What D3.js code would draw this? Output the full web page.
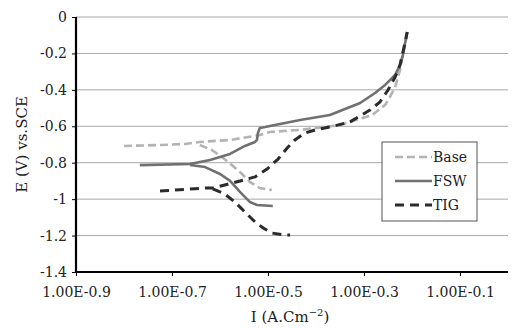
<!DOCTYPE html>
<html>
<head>
<meta charset="utf-8">
<script src="https://cdn.jsdelivr.net/npm/d3@7"></script>
<style>
  body { margin: 0; background: #fff; }
  text { font-family: "DejaVu Serif", serif; fill: #222; }
</style>
</head>
<body>
<svg id="chart" width="513" height="328"></svg>
<script>
// Data: x = log10(I), y = E (V vs SCE)
const xTicks = [-0.9, -0.7, -0.5, -0.3, -0.1];
const xTickLabels = ["1.00E-0.9", "1.00E-0.7", "1.00E-0.5", "1.00E-0.3", "1.00E-0.1"];
const yTicks = [0, -0.2, -0.4, -0.6, -0.8, -1, -1.2, -1.4];
const yTickLabels = ["0", "-0.2", "-0.4", "-0.6", "-0.8", "-1", "-1.2", "-1.4"];
const seriesNames = ["Base", "FSW", "TIG"];

const baseAnodic = [
  [-0.800, -0.708], [-0.725, -0.703], [-0.673, -0.697], [-0.642, -0.686],
  [-0.579, -0.675], [-0.517, -0.648], [-0.496, -0.631], [-0.433, -0.620],
  [-0.350, -0.593], [-0.283, -0.538], [-0.256, -0.483], [-0.246, -0.439],
  [-0.235, -0.384], [-0.225, -0.291], [-0.217, -0.181], [-0.210, -0.088]
];
const baseCathodic = [
  [-0.642, -0.703], [-0.617, -0.730], [-0.596, -0.769], [-0.573, -0.818],
  [-0.554, -0.862], [-0.5375, -0.906], [-0.517, -0.939], [-0.492, -0.950]
];
const fswAnodic = [
  [-0.767, -0.813], [-0.6625, -0.807], [-0.621, -0.785], [-0.579, -0.752],
  [-0.548, -0.708], [-0.5375, -0.697], [-0.527, -0.686], [-0.523, -0.675],
  [-0.521, -0.637], [-0.517, -0.609], [-0.506, -0.604], [-0.475, -0.587],
  [-0.433, -0.565], [-0.371, -0.538], [-0.308, -0.472], [-0.277, -0.417],
  [-0.256, -0.373], [-0.235, -0.318], [-0.225, -0.264], [-0.219, -0.209],
  [-0.210, -0.082]
];
const fswCathodic = [
  [-0.6625, -0.813], [-0.631, -0.824], [-0.600, -0.862], [-0.579, -0.900],
  [-0.558, -0.961], [-0.5375, -1.016], [-0.523, -1.032], [-0.490, -1.038]
];
const tigAnodic = [
  [-0.725, -0.955], [-0.694, -0.950], [-0.6625, -0.944], [-0.631, -0.939],
  [-0.615, -0.939], [-0.590, -0.922], [-0.558, -0.900], [-0.527, -0.878],
  [-0.502, -0.835], [-0.479, -0.780], [-0.460, -0.719], [-0.444, -0.675],
  [-0.423, -0.637], [-0.402, -0.620], [-0.371, -0.604], [-0.329, -0.576],
  [-0.2875, -0.511], [-0.267, -0.467], [-0.250, -0.401], [-0.235, -0.329],
  [-0.225, -0.264], [-0.217, -0.170], [-0.210, -0.082]
];
const tigCathodic = [
  [-0.615, -0.944], [-0.590, -0.972], [-0.569, -1.016], [-0.548, -1.071],
  [-0.527, -1.125], [-0.510, -1.158], [-0.492, -1.186], [-0.465, -1.197],
  [-0.454, -1.197]
];

const margin = { top: 17, right: 5, bottom: 56, left: 76 };
const width = 513 - margin.left - margin.right;
const height = 328 - margin.top - margin.bottom;

const svg = d3.select("#chart");
const g = svg.append("g").attr("transform", `translate(${margin.left},${margin.top})`);

const x = d3.scaleLinear().domain([-0.9, 0]).range([0, width]);
const y = d3.scaleLinear().domain([-1.4, 0]).range([height, 0]);

// Gridlines
g.selectAll(".grid")
  .data(yTicks.filter(d => d > -1.4))
  .enter().append("line")
  .attr("x1", 0).attr("x2", width)
  .attr("y1", d => y(d)).attr("y2", d => y(d))
  .attr("stroke", "#a8a8a8")
  .attr("stroke-width", 1);

// Axes
const yAxis = g.append("g")
  .call(d3.axisLeft(y).tickValues(yTicks).tickSize(4).tickFormat((d, i) => yTickLabels[i]));
const xAxis = g.append("g")
  .attr("transform", `translate(0,${height})`)
  .call(d3.axisBottom(x).tickValues(xTicks).tickSize(4).tickFormat((d, i) => xTickLabels[i]));

[xAxis, yAxis].forEach(ax => {
  ax.select(".domain").attr("stroke", "#000").attr("stroke-width", 2.2);
  ax.selectAll(".tick line").attr("stroke", "#000");
  ax.selectAll("text")
    .style("font-family", "DejaVu Serif, serif")
    .style("font-size", "14px")
    .attr("fill", "#222");
});
xAxis.select(".domain").attr("d", `M0,0H${width}`);
yAxis.select(".domain").attr("d", `M0,0V${height}`);
xAxis.selectAll("text").attr("dy", "1.25em");
yAxis.selectAll("text").attr("x", -9);

// Lines
const line = d3.line().x(d => x(d[0])).y(d => y(d[1]));
const styles = {
  Base: { color: "#b3b3b3", width: 2.6, dash: "8,4" },
  FSW: { color: "#707070", width: 2.6, dash: null },
  TIG: { color: "#2b2b2b", width: 3, dash: "9,6" }
};
const curves = [
  { key: "Base", pts: baseAnodic }, { key: "Base", pts: baseCathodic },
  { key: "FSW", pts: fswAnodic }, { key: "FSW", pts: fswCathodic },
  { key: "TIG", pts: tigAnodic }, { key: "TIG", pts: tigCathodic }
];
curves.forEach(c => {
  const s = styles[c.key];
  g.append("path")
    .attr("d", line(c.pts))
    .attr("fill", "none")
    .attr("stroke", s.color)
    .attr("stroke-width", s.width)
    .attr("stroke-dasharray", s.dash)
    .attr("stroke-linejoin", "round");
});

// Legend
const legend = svg.append("g").attr("transform", "translate(382,142)");
legend.append("rect")
  .attr("width", 95).attr("height", 79)
  .attr("fill", "#fff").attr("stroke", "#555").attr("stroke-width", 1);
seriesNames.forEach((name, i) => {
  const s = styles[name];
  const yy = 15 + i * 24;
  legend.append("line")
    .attr("x1", 13).attr("x2", 50).attr("y1", yy).attr("y2", yy)
    .attr("stroke", s.color).attr("stroke-width", s.width)
    .attr("stroke-dasharray", s.dash);
  legend.append("text")
    .attr("x", 51).attr("y", yy + 5)
    .style("font-size", "14px")
    .text(name);
});

// Axis titles
svg.append("text")
  .attr("transform", `translate(27,${margin.top + height / 2}) rotate(-90)`)
  .attr("text-anchor", "middle")
  .style("font-size", "15px")
  .text("E (V) vs.SCE");

const xt = svg.append("text")
  .attr("x", 290).attr("y", 322)
  .attr("text-anchor", "middle")
  .style("font-size", "15px");
xt.append("tspan").text("I (A.Cm");
xt.append("tspan").attr("dy", -6).style("font-size", "10px").text("−2");
xt.append("tspan").attr("dy", 6).text(")");
</script>
</body>
</html>
